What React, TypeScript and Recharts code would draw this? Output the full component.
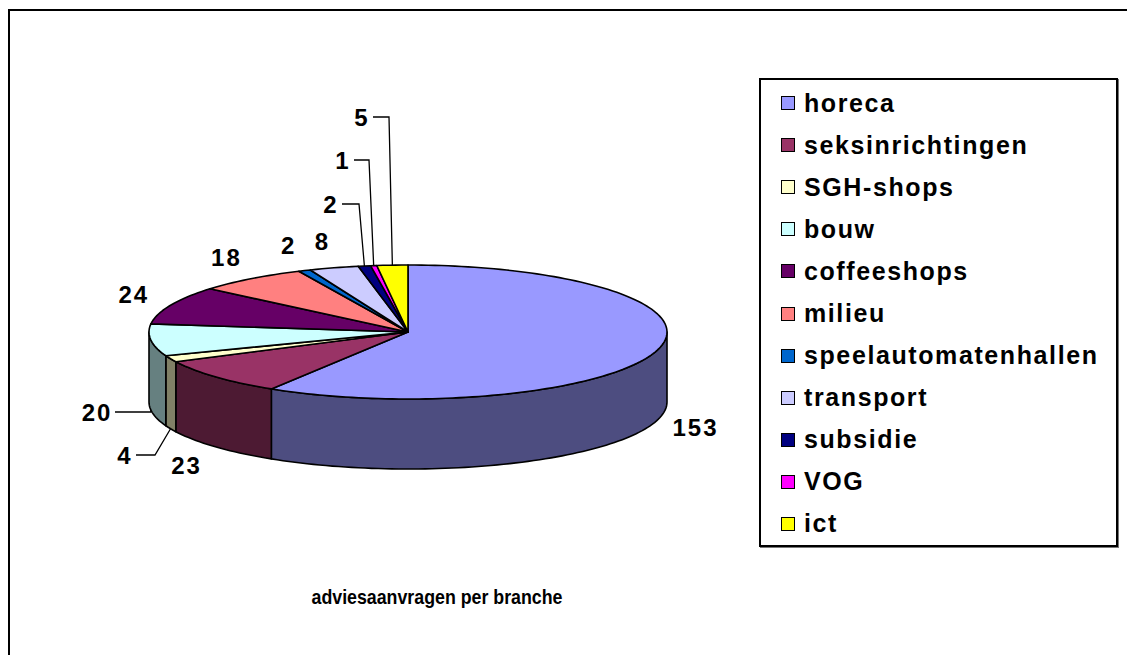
import React from 'react';
import { PieChart, Pie, Legend } from 'recharts';

const categories = ['horeca', 'seksinrichtingen', 'SGH-shops', 'bouw', 'coffeeshops', 'milieu', 'speelautomatenhallen', 'transport', 'subsidie', 'VOG', 'ict'];
const counts = [153, 23, 4, 20, 24, 18, 2, 8, 2, 1, 5];
const colors = ['#9999FF', '#993366', '#FFFFCC', '#CCFFFF', '#660066', '#FF8080', '#0066CC', '#CCCCFF', '#000080', '#FF00FF', '#FFFF00'];
const title = 'adviesaanvragen per branche';

const data = categories.map((name, i) => ({ name, value: counts[i], color: colors[i] }));

// 3d look: ellipse flattening and wall height
const TILT = 67 / 259;
const DEPTH = 70;
const RAD = Math.PI / 180;
const FONT = '"Liberation Sans", Arial, sans-serif';

// labels that Excel moved away with a leader line (offsets from the pie centre)
const LEADERS: Record<string, { tx: number; ty: number; ex?: number; side?: boolean }> = {
  bouw: { tx: -311, ty: 80, side: true },
  'SGH-shops': { tx: -283, ty: 123, ex: -253, side: true },
  subsidie: { tx: -77, ty: -128, ex: -49 },
  VOG: { tx: -65, ty: -172, ex: -39 },
  ict: { tx: -46, ty: -215, ex: -19 },
};

type Pt = [number, number];
const rim = (cx: number, cy: number, r: number, a: number, down = 0): Pt =>
  [cx + r * Math.cos(a * RAD), cy - r * TILT * Math.sin(a * RAD) + down];

function arc(cx: number, cy: number, r: number, a1: number, a2: number, down = 0): Pt[] {
  const n = Math.max(2, Math.ceil(Math.abs(a2 - a1) / 1.5));
  const out: Pt[] = [];
  for (let k = 0; k <= n; k++) out.push(rim(cx, cy, r, a1 + ((a2 - a1) * k) / n, down));
  return out;
}
const toPath = (pts: Pt[]) => 'M' + pts.map(p => `${p[0].toFixed(2)},${p[1].toFixed(2)}`).join('L') + 'Z';

function darken(hex: string) {
  const n = parseInt(hex.slice(1), 16);
  const c = [(n >> 16) & 255, (n >> 8) & 255, n & 255].map(v => Math.round(v * 0.5));
  return `rgb(${c[0]},${c[1]},${c[2]})`;
}

const colorOf = (p: any) => p.payload?.color ?? p.color;

function Wall(p: any) {
  const lo = Math.max(Math.min(p.startAngle, p.endAngle), -180);
  const hi = Math.min(Math.max(p.startAngle, p.endAngle), 0);
  if (hi <= lo) return <g />;
  const pts = [...arc(p.cx, p.cy, p.outerRadius, lo, hi), ...arc(p.cx, p.cy, p.outerRadius, hi, lo, DEPTH)];
  return <path d={toPath(pts)} fill={darken(colorOf(p))} stroke="#000" strokeWidth={1.6} strokeLinejoin="round" />;
}

function Top(p: any) {
  const pts: Pt[] = [[p.cx, p.cy], ...arc(p.cx, p.cy, p.outerRadius, p.startAngle, p.endAngle)];
  return <path d={toPath(pts)} fill={colorOf(p)} stroke="#000" strokeWidth={1.6} strokeLinejoin="round" />;
}

function ValueLabel(p: any) {
  const name = p.payload?.name ?? p.name;
  const txt = String(p.value);
  const style = { fontFamily: FONT, fontWeight: 700, fontSize: 24, letterSpacing: 2, fill: '#000' };
  const lead = LEADERS[name];
  if (lead) {
    const tx = p.cx + lead.tx;
    const ty = p.cy + lead.ty;
    const [ax, ay] = rim(p.cx, p.cy, p.outerRadius, p.midAngle, lead.side ? DEPTH : 0);
    const sx = tx + txt.length * 7 + 4;
    const ex = lead.ex !== undefined ? p.cx + lead.ex : ax;
    return (
      <g>
        <polyline points={`${sx},${ty} ${ex},${ty} ${ax},${ay}`} fill="none" stroke="#000" strokeWidth={1.3} />
        <text x={tx} y={ty} textAnchor="middle" dominantBaseline="central" style={style}>{txt}</text>
      </g>
    );
  }
  const a = p.midAngle * RAD;
  const x = p.cx + (p.outerRadius + 40) * Math.cos(a);
  const y = p.cy - (p.outerRadius * TILT + 27) * Math.sin(a) + (Math.sin(a) < 0 ? DEPTH : 0);
  return <text x={x} y={y} textAnchor="middle" dominantBaseline="central" style={style}>{txt}</text>;
}

function LegendBox() {
  return (
    <div style={{ width: 359, height: 469, boxSizing: 'border-box', border: '2px solid #000', boxShadow: '1px 1px 0 #777', background: '#fff', paddingTop: 2, paddingLeft: 20 }}>
      {categories.map((name, i) => (
        <div key={name} style={{ height: 42.1, display: 'flex', alignItems: 'center' }}>
          <span style={{ width: 14, height: 14, boxSizing: 'border-box', border: '1.5px solid #000', background: colors[i], marginRight: 9, flex: 'none' }} />
          <span style={{ fontFamily: FONT, fontWeight: 700, fontSize: 25, letterSpacing: 1.6, color: '#000', lineHeight: 1 }}>{name}</span>
        </div>
      ))}
    </div>
  );
}

export default function App() {
  const common = {
    data, dataKey: 'value', nameKey: 'name', cx: 408, cy: 332, outerRadius: 259,
    startAngle: 90, endAngle: -270, fill: 'none', stroke: 'none', labelLine: false, isAnimationActive: false,
  };
  return (
    <div style={{ position: 'absolute', left: 0, top: 0, width: 1127, height: 655, overflow: 'hidden', background: '#fff' }}>
      <div style={{ position: 'absolute', left: 8, top: 9, width: 1200, height: 800, border: '2px solid #000' }} />
      <div style={{ position: 'absolute', left: 0, top: 0 }}>
        <PieChart width={1127} height={655} margin={{ top: 0, right: 0, bottom: 0, left: 0 }}>
          <Pie {...common} legendType="none" label={Wall} />
          <Pie {...common} label={Top} />
          <Pie {...common} legendType="none" label={ValueLabel} />
          <Legend content={<LegendBox />} wrapperStyle={{ position: 'absolute', left: 759, top: 78, width: 359, height: 469 }} />
        </PieChart>
      </div>
      <svg style={{ position: 'absolute', left: 0, top: 0 }} width={1127} height={655} pointerEvents="none">
        <text x={437} y={604} textAnchor="middle" textLength={251} lengthAdjust="spacingAndGlyphs"
          style={{ fontFamily: FONT, fontWeight: 700, fontSize: 21, fill: '#000' }}>{title}</text>
      </svg>
    </div>
  );
}
